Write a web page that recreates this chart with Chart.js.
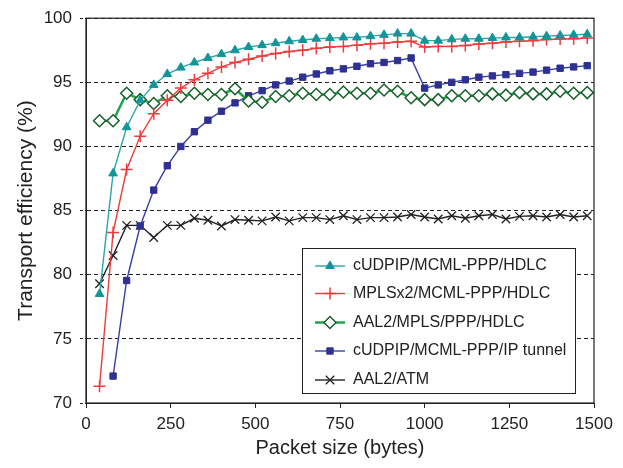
<!DOCTYPE html>
<html lang="en">
<head>
  <meta charset="UTF-8">
  <title>Transport efficiency vs packet size</title>
  <script src="https://cdn.jsdelivr.net/npm/chart.js"></script>
  <style>
    html, body { margin: 0; padding: 0; background: #fff; }
    .wrap { width: 623px; height: 468px; position: relative; }
  </style>
</head>
<body>
  <div class="wrap"><canvas id="effChart"></canvas></div>

  <script>
    // packet sizes (bytes)
    const packetSizes = [40, 80, 120, 160, 200, 240, 280, 320, 360, 400, 440, 480, 520, 560, 600, 640, 680, 720,
      760, 800, 840, 880, 920, 960, 1000, 1040, 1080, 1120, 1160, 1200, 1240, 1280, 1320, 1360, 1400, 1440, 1480];

    const cudpHdlc = [78.5, 87.9, 91.5, 93.6, 94.8, 95.65, 96.15, 96.55, 96.9, 97.2, 97.5, 97.75, 97.9, 98.05, 98.2, 98.3, 98.4, 98.45,
      98.5, 98.5, 98.6, 98.7, 98.8, 98.8, 98.25, 98.25, 98.35, 98.4, 98.4, 98.45, 98.5, 98.5, 98.55, 98.6, 98.65, 98.7, 98.75];
    const mplsHdlc = [71.3, 83.3, 88.2, 90.8, 92.55, 93.6, 94.55, 95.2, 95.7, 96.2, 96.55, 96.8, 97.05, 97.25, 97.4, 97.5, 97.65, 97.75,
      97.8, 97.9, 98.0, 98.05, 98.15, 98.2, 97.75, 97.8, 97.8, 97.87, 97.98, 98.05, 98.15, 98.2, 98.25, 98.33, 98.38, 98.4, 98.46];
    const aal2Mpls = [92.0, 92.0, 94.15, 93.65, 93.35, 93.95, 93.9, 94.15, 94.05, 94.05, 94.5, 93.55, 93.45, 93.9, 93.95, 94.15, 94.05, 94.05,
      94.25, 94.15, 94.15, 94.4, 94.3, 93.8, 93.65, 93.65, 93.95, 93.95, 93.95, 94.1, 94.0, 94.2, 94.1, 94.1, 94.3, 94.15, 94.2];
    const cudpTunnel = [null, 72.1, 79.55, 83.8, 86.6, 88.5, 90.0, 91.15, 92.05, 92.75, 93.4, 93.95, 94.35, 94.8, 95.1, 95.4, 95.65, 95.9,
      96.05, 96.25, 96.45, 96.55, 96.7, 96.9, 94.55, 94.8, 95.0, 95.2, 95.4, 95.5, 95.6, 95.7, 95.8, 95.95, 96.1, 96.2, 96.3];
    const aal2Atm = [79.3, 81.5, 83.85, 83.85, 82.9, 83.85, 83.85, 84.4, 84.25, 83.8, 84.3, 84.25, 84.2, 84.5, 84.2, 84.45, 84.45, 84.3,
      84.6, 84.3, 84.45, 84.45, 84.5, 84.7, 84.5, 84.35, 84.6, 84.4, 84.6, 84.7, 84.35, 84.55, 84.6, 84.5, 84.7, 84.5, 84.6];

    const seriesNames = ['cUDPIP/MCML-PPP/HDLC', 'MPLSx2/MCML-PPP/HDLC', 'AAL2/MPLS/PPP/HDLC', 'cUDPIP/MCML-PPP/IP tunnel', 'AAL2/ATM'];
    const xTicks = [0, 250, 500, 750, 1000, 1250, 1500];
    const yTicks = [70, 75, 80, 85, 90, 95, 100];

    const FONT = "'Liberation Sans', Arial, sans-serif";
    const toPoints = (vals) => packetSizes.map((x, i) => ({ x: x, y: vals[i] }));

    // frame around plot + legend box inside it
    const framePlugin = {
      id: 'frameAndLegend',
      afterDraw(chart) {
        const { ctx, chartArea: a } = chart;
        ctx.save();
        ctx.strokeStyle = '#222';
        ctx.lineWidth = 1.2;
        ctx.setLineDash([]);
        ctx.strokeRect(a.left, a.top, a.right - a.left, a.bottom - a.top);

        const lx = 302, ly = 248, lw = 273, lh = 145;
        ctx.fillStyle = '#fff';
        ctx.fillRect(lx, ly, lw, lh);
        ctx.lineWidth = 1;
        ctx.strokeRect(lx + 0.5, ly + 0.5, lw, lh);

        const rowY = [266, 293.5, 322.5, 351, 380];
        chart.data.datasets.forEach((ds, i) => {
          const y = rowY[i];
          ctx.strokeStyle = ds.borderColor;
          ctx.lineWidth = ds.borderWidth;
          ctx.beginPath();
          ctx.moveTo(315, y);
          ctx.lineTo(345, y);
          ctx.stroke();
          ctx.fillStyle = ds.pointBackgroundColor;
          ctx.strokeStyle = ds.pointBorderColor;
          ctx.lineWidth = ds.pointBorderWidth;
          Chart.helpers.drawPoint(ctx, {
            pointStyle: ds.pointStyle, radius: ds.pointRadius, borderWidth: ds.pointBorderWidth, rotation: 0
          }, 330, y);
          ctx.fillStyle = '#222';
          ctx.font = '16px ' + FONT;
          ctx.textBaseline = 'middle';
          ctx.fillText(ds.label, 353, y);
        });
        ctx.restore();
      }
    };

    new Chart(document.getElementById('effChart'), {
      type: 'line',
      data: {
        datasets: [
          {
            label: seriesNames[0], data: toPoints(cudpHdlc),
            borderColor: '#2aa6aa', borderWidth: 1.4,
            pointStyle: 'triangle', pointRadius: 5, pointBackgroundColor: '#129499', pointBorderColor: '#129499', pointBorderWidth: 1
          },
          {
            label: seriesNames[1], data: toPoints(mplsHdlc),
            borderColor: '#ef3b3b', borderWidth: 1.4,
            pointStyle: 'cross', pointRadius: 6, pointBackgroundColor: '#ef3b3b', pointBorderColor: '#ef3b3b', pointBorderWidth: 1.5
          },
          {
            label: seriesNames[2], data: toPoints(aal2Mpls),
            borderColor: '#1fa64c', borderWidth: 2.5,
            pointStyle: 'rectRot', pointRadius: 6, pointBackgroundColor: '#fff', pointBorderColor: '#17602a', pointBorderWidth: 1.5
          },
          {
            label: seriesNames[3], data: toPoints(cudpTunnel),
            borderColor: '#3b40a3', borderWidth: 1.4,
            pointStyle: 'rect', pointRadius: 4.5, pointBackgroundColor: '#2e3192', pointBorderColor: '#2e3192', pointBorderWidth: 1
          },
          {
            label: seriesNames[4], data: toPoints(aal2Atm),
            borderColor: '#222', borderWidth: 1.4,
            pointStyle: 'crossRot', pointRadius: 6, pointBackgroundColor: '#222', pointBorderColor: '#222', pointBorderWidth: 1.3
          }
        ]
      },
      options: {
        responsive: true,
        maintainAspectRatio: false,
        animation: false,
        spanGaps: false,
        layout: { padding: { left: 0, top: 13, right: 29, bottom: 0 } },
        plugins: { legend: { display: false }, tooltip: { enabled: false } },
        scales: {
          x: {
            type: 'linear', min: 0, max: 1500,
            afterFit: (s) => { s.height = 65; },
            afterBuildTicks: (s) => { s.ticks = xTicks.map(v => ({ value: v })); },
            grid: { drawOnChartArea: false, drawTicks: true, tickLength: 5, tickColor: '#222' },
            border: { display: true, color: '#222' },
            ticks: { color: '#222', font: { family: FONT, size: 17 }, padding: 6, maxRotation: 0, callback: (v) => String(v) },
            title: { display: true, text: 'Packet size (bytes)', color: '#222', font: { family: FONT, size: 20 }, padding: { top: 0, bottom: 8 } }
          },
          y: {
            min: 70, max: 100,
            afterFit: (s) => { s.width = 86; },
            afterBuildTicks: (s) => { s.ticks = yTicks.map(v => ({ value: v })); },
            grid: { color: '#222', lineWidth: 1, tickLength: 6, tickColor: '#222', tickBorderDash: [3, 2] },
            border: { display: true, color: '#222', dash: [4, 3] },
            ticks: { color: '#222', font: { family: FONT, size: 17 }, padding: 8, callback: (v) => String(v) },
            title: { display: true, text: 'Transport efficiency (%)', color: '#222', font: { family: FONT, size: 21 }, padding: { top: 14, bottom: 0 } }
          }
        },
        elements: { line: { tension: 0 } }
      },
      plugins: [framePlugin]
    });
  </script>
</body>
</html>
